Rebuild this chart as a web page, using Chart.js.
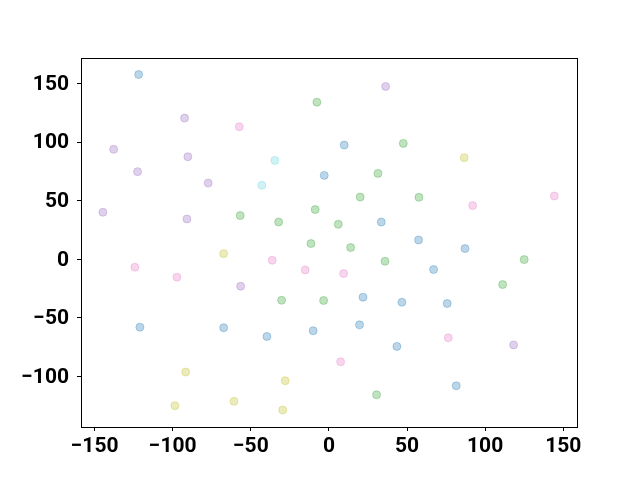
<!DOCTYPE html>
<html>
<head>
<meta charset="utf-8">
<script src="https://cdn.jsdelivr.net/npm/chart.js@4/dist/chart.umd.min.js"></script>
<style>
  html, body { margin: 0; padding: 0; background: #fff; }
  #wrap { width: 640px; height: 480px; }
</style>
</head>
<body>
<div id="wrap"><canvas id="scatter" width="640" height="480"></canvas></div>
<script>
// point groups
const blueX = [-121.8, 9.8, -3.0, 33.5, 57.4, 87.1, 67.0, 21.8, 46.7, 75.7, 19.6, -121.0, -67.4, -39.7, -10.1, 43.5, 81.5];
const blueY = [157.7, 97.5, 71.6, 31.8, 16.5, 9.1, -8.8, -32.4, -36.7, -37.8, -56.0, -58.0, -58.5, -65.9, -61.1, -74.4, -108.0];

const greenX = [-7.7, 47.6, 31.4, 20.0, 57.6, 6.0, -56.8, -32.2, -8.8, -11.5, 13.9, 35.9, 125.0, 111.2, -30.3, -3.4, 30.5];
const greenY = [134.1, 98.9, 73.3, 53.1, 52.9, 29.8, 37.3, 31.8, 42.4, 13.4, 10.0, -1.7, -0.3, -21.6, -35.0, -35.2, -115.7];

const purpleX = [36.3, -92.4, -137.8, -90.3, -122.5, -77.3, -144.7, -90.9, -56.5, 118.2];
const purpleY = [147.5, 120.5, 93.8, 87.5, 74.8, 65.0, 40.1, 34.4, -23.0, -73.1];

const pinkX = [-57.4, 92.0, 144.3, -36.3, -124.2, -15.2, -97.3, 9.4, 76.4, 7.5];
const pinkY = [113.1, 45.8, 54.0, -0.9, -6.8, -9.1, -15.3, -12.2, -67.1, -87.5];

const oliveX = [86.6, -67.4, -91.7, -28.0, -98.6, -60.8, -29.6];
const oliveY = [86.7, 4.8, -96.3, -103.7, -125.0, -121.3, -128.7];

const cyanX = [-34.6, -42.9];
const cyanY = [84.4, 63.1];

const xTicks = [-150, -100, -50, 0, 50, 100, 150];
const yTicks = [-100, -50, 0, 50, 100, 150];

const FONT = { family: 'Roboto', size: 21, weight: 'bold' };

function pts(xs, ys) {
  return xs.map((x, i) => ({ x, y: ys[i] }));
}

function group(xs, ys, rgb, alpha) {
  return {
    data: pts(xs, ys),
    backgroundColor: `rgba(${rgb},${alpha})`,
    borderColor: `rgba(${rgb},${alpha})`,
    borderWidth: 1,
    pointRadius: 4
  };
}

// matplotlib draws all four spines
const boxPlugin = {
  id: 'box',
  afterDraw(chart) {
    const { ctx, chartArea: a } = chart;
    ctx.save();
    ctx.strokeStyle = '#000';
    ctx.lineWidth = 1;
    ctx.strokeRect(a.left + 0.5, a.top + 0.5, a.right - a.left, a.bottom - a.top);
    ctx.restore();
  }
};

const minus = v => String(v).replace('-', '\u2212');

new Chart(document.getElementById('scatter'), {
  type: 'scatter',
  data: {
    datasets: [
      group(blueX, blueY, '31,119,180', 0.3),
      group(greenX, greenY, '44,160,44', 0.3),
      group(purpleX, purpleY, '148,103,189', 0.3),
      group(pinkX, pinkY, '227,119,194', 0.3),
      group(oliveX, oliveY, '188,189,34', 0.3),
      group(cyanX, cyanY, '23,190,207', 0.2)
    ]
  },
  options: {
    responsive: false,
    animation: false,
    layout: { padding: { left: 0, top: 58, right: 63, bottom: 0 } },
    plugins: {
      legend: { display: false },
      tooltip: { enabled: false }
    },
    scales: {
      x: {
        type: 'linear',
        min: -158.7,
        max: 158.8,
        afterBuildTicks: s => { s.ticks = xTicks.map(v => ({ value: v })); },
        afterFit: s => { s.height = 53; },
        grid: { drawOnChartArea: false, drawTicks: true, tickLength: 4, tickColor: '#000' },
        border: { display: true, color: '#000', width: 1 },
        ticks: { color: '#000', font: FONT, padding: 3, maxRotation: 0, callback: minus }
      },
      y: {
        type: 'linear',
        min: -143.2,
        max: 171.8,
        afterBuildTicks: s => { s.ticks = yTicks.map(v => ({ value: v })); },
        afterFit: s => { s.width = 81; },
        grid: { drawOnChartArea: false, drawTicks: true, tickLength: 4, tickColor: '#000' },
        border: { display: true, color: '#000', width: 1 },
        ticks: { color: '#000', font: FONT, padding: 8, labelOffset: 1, callback: minus }
      }
    }
  },
  plugins: [boxPlugin]
});
</script>
</body>
</html>
